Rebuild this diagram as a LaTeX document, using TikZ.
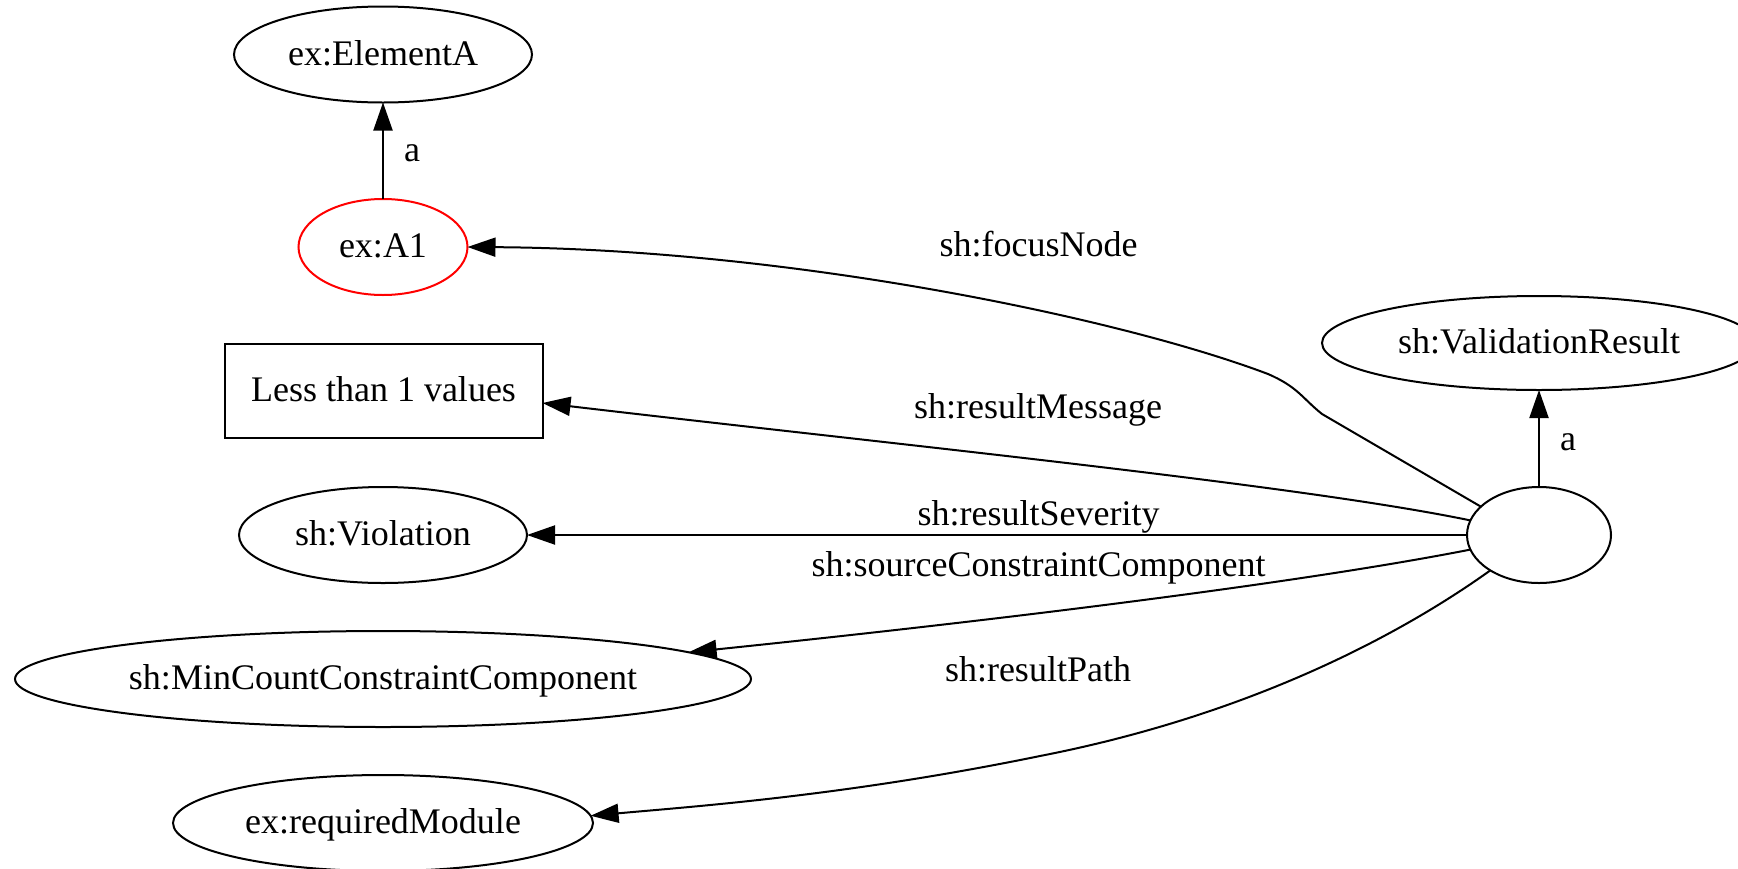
\documentclass[tikz,border=0pt]{standalone}
\usepackage{fontspec}
\setmainfont{Liberation Serif}
\usetikzlibrary{arrows.meta,shapes.geometric}
\begin{document}
\begin{tikzpicture}[x=1pt,y=-1pt,line width=2pt,
  every node/.style={font=\fontsize{36}{43}\selectfont},
  res/.style={draw,ellipse,inner sep=0pt,outer sep=0pt,text height=21pt,text depth=0pt},
  lit/.style={draw,rectangle,inner sep=0pt,outer sep=0pt,text height=21pt,text depth=0pt},
  lbl/.style={anchor=base,inner sep=0pt},
  edge/.style={-{Triangle[length=28pt,width=19pt]},line width=2pt}]
\useasboundingbox (0,0) rectangle (1738,868);
\fill[white] (0,0) rectangle (1738,868);
\clip (0,0) rectangle (1738,868);

% resources and literal
\node[res,minimum width=298pt,minimum height=96pt] (elemA) at (383,54.5) {ex:ElementA};
\node[res,draw=red,minimum width=169pt,minimum height=96pt] (a1) at (383,247) {ex:A1};
\node[lit,minimum width=318pt,minimum height=94pt] (msg) at (383.5,390.5) {Less than 1 values};
\node[res,minimum width=288pt,minimum height=96pt] (viol) at (383,535) {sh:Violation};
\node[res,minimum width=736pt,minimum height=96pt] (mincount) at (383,679) {sh:MinCountConstraintComponent};
\node[res,minimum width=420pt,minimum height=96pt] (reqmod) at (383,823) {ex:requiredModule};
\node[res,minimum width=144pt,minimum height=96pt] (result) at (1539,535) {};
\node[res,minimum width=434pt,minimum height=94pt] (vresult) at (1539,343) {sh:ValidationResult};

% edges
\draw[edge] (a1.north) -- (elemA.south);
\draw[edge] (result.north) -- (vresult.south);
\draw[edge] (result.154) -- (1322,414) .. controls (1302,398) and (1298,387) .. (1268,374)
  .. controls (1120,318) and (790,249) .. (a1.east);
\draw[edge] (result.168) .. controls (1300,485) and (900,445) .. ([yshift=-12.5pt]msg.east);
\draw[edge] (result.west) -- (viol.east);
\draw[edge] (result.192) .. controls (1300,583) and (1000,620) .. (mincount.5);
\draw[edge] (result.216) .. controls (1400,635) and (1250,715) .. (1040,756)
  .. controls (850,795) and (700,806) .. (reqmod.2);

% edge labels
\node[lbl] (la1) at (412,161.7) {a};
\node[lbl] (lvr) at (1568,450) {a};
\node[lbl] (lfocus) at (1038.6,256.7) {sh:focusNode};
\node[lbl] (lmsg) at (1038,418.3) {sh:resultMessage};
\node[lbl] (lsev) at (1038.6,525) {sh:resultSeverity};
\node[lbl] (lsrc) at (1038.6,576.7) {sh:sourceConstraintComponent};
\node[lbl] (lpath) at (1038,681) {sh:resultPath};
\end{tikzpicture}
\end{document}
